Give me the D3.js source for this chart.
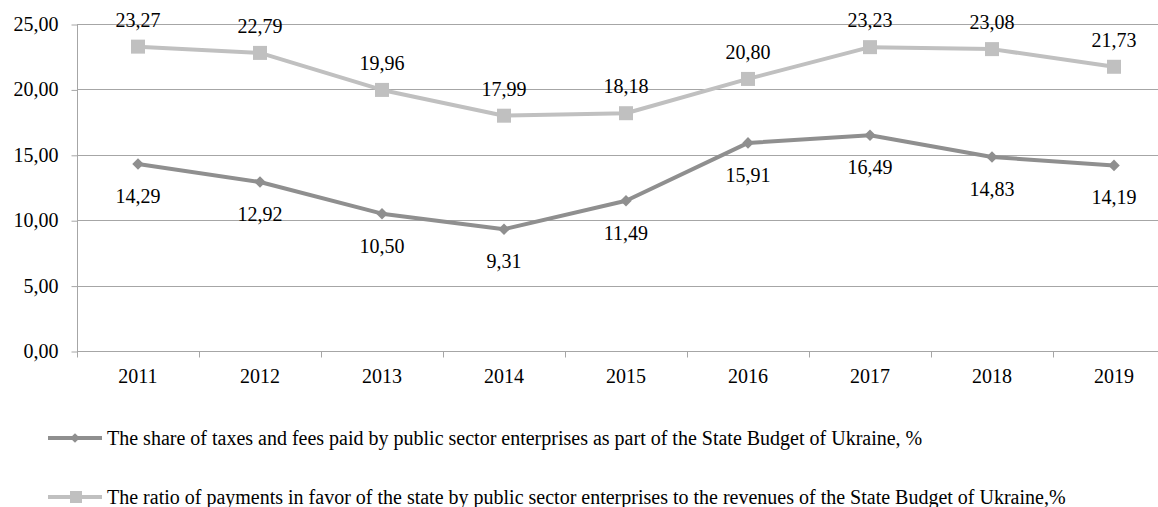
<!DOCTYPE html>
<html>
<head>
<meta charset="utf-8">
<script src="https://cdn.jsdelivr.net/npm/d3@7"></script>
<style>
  html, body { margin: 0; padding: 0; background: #fff; }
  svg { display: block; }
  svg text { font-family: "Liberation Serif", "Times New Roman", serif; }
</style>
</head>
<body>
<svg id="chart" width="1158" height="507"></svg>
<script>
// Years on the category axis
const years = ["2011", "2012", "2013", "2014", "2015", "2016", "2017", "2018", "2019"];
// Share of taxes and fees paid by public sector enterprises, %
const taxShare = [14.29, 12.92, 10.50, 9.31, 11.49, 15.91, 16.49, 14.83, 14.19];
// Ratio of payments in favor of the state to State Budget revenues, %
const paymentRatio = [23.27, 22.79, 19.96, 17.99, 18.18, 20.80, 23.23, 23.08, 21.73];
// Value axis ticks
const yTicks = [0, 5, 10, 15, 20, 25];
const seriesNames = [
  "The share of taxes and fees paid by public sector enterprises as part of the State Budget of Ukraine, %",
  "The ratio of payments in favor of the state by public sector enterprises to the revenues of the State Budget of Ukraine,%"
];

const fmt = v => v.toFixed(2).replace(".", ",");
const svg = d3.select("#chart");

const plot = { left: 77, top: 24, bottom: 351, band: 122 };
const x = d3.scaleBand().domain(years)
  .range([plot.left, plot.left + plot.band * years.length]).paddingInner(0).paddingOuter(0);
const y = d3.scaleLinear().domain([0, 25]).range([plot.bottom, plot.top]);

const gridColor = "#a6a6a6";
const fontSize = 20;

// Horizontal gridlines
svg.append("g").selectAll("line").data(yTicks.filter(t => t > 0)).join("line")
  .attr("x1", plot.left).attr("x2", 1158)
  .attr("y1", d => Math.round(y(d)) + 0.5).attr("y2", d => Math.round(y(d)) + 0.5)
  .attr("stroke", gridColor).attr("stroke-width", 1);

// Value axis
const yAxis = svg.append("g")
  .attr("transform", `translate(${plot.left + 0.5},0)`)
  .call(d3.axisLeft(y).tickValues(yTicks).tickSize(6).tickPadding(13).tickFormat(fmt));
yAxis.attr("font-family", null).attr("font-size", fontSize);
yAxis.select(".domain").attr("stroke", gridColor).attr("d", `M0,${plot.top}V${plot.bottom}`);
yAxis.selectAll(".tick line").attr("stroke", gridColor).attr("transform", "translate(0,0.5)");
yAxis.selectAll(".tick text").attr("fill", "#000");

// Category axis
const xAxisG = svg.append("g")
  .attr("transform", `translate(0,${Math.round(plot.bottom) + 0.5})`);
xAxisG.append("line").attr("x1", plot.left).attr("x2", 1158).attr("stroke", gridColor);
xAxisG.selectAll("line.sep").data(years).join("line").attr("class", "sep")
  .attr("x1", d => Math.round(x(d)) + 0.5).attr("x2", d => Math.round(x(d)) + 0.5)
  .attr("y1", 0).attr("y2", 6).attr("stroke", gridColor);
xAxisG.selectAll("text").data(years).join("text")
  .attr("x", d => x(d) + x.bandwidth() / 2).attr("y", 31)
  .attr("text-anchor", "middle").attr("font-size", fontSize).attr("fill", "#000").text(d => d);

const cx = d => x(d) + x.bandwidth() / 2;
const line = d3.line().x(d => cx(d.year)).y(d => y(d.v));

const darkColor = "#8f8f8f";
const lightColor = "#c0c0c0";

const s1 = years.map((yr, i) => ({ year: yr, v: taxShare[i] }));
const s2 = years.map((yr, i) => ({ year: yr, v: paymentRatio[i] }));

// Light series: payment ratio with square markers
svg.append("path").datum(s2).attr("d", line)
  .attr("fill", "none").attr("stroke", lightColor).attr("stroke-width", 4).attr("stroke-linejoin", "round");
svg.append("g").selectAll("rect").data(s2).join("rect")
  .attr("x", d => cx(d.year) - 7).attr("y", d => y(d.v) - 7)
  .attr("width", 14).attr("height", 14).attr("fill", lightColor);

// Dark series: tax share with diamond markers
svg.append("path").datum(s1).attr("d", line)
  .attr("fill", "none").attr("stroke", darkColor).attr("stroke-width", 4).attr("stroke-linejoin", "round");
const diamond = d3.symbol().type(d3.symbolDiamond2).size(85);
svg.append("g").selectAll("path").data(s1).join("path")
  .attr("d", diamond)
  .attr("transform", d => `translate(${cx(d.year)},${y(d.v)})`)
  .attr("fill", darkColor);

// Data labels
svg.append("g").selectAll("text").data(s2).join("text")
  .attr("x", d => cx(d.year)).attr("y", d => y(d.v) - 20)
  .attr("text-anchor", "middle").attr("font-size", fontSize).attr("fill", "#000").text(d => fmt(d.v));
svg.append("g").selectAll("text").data(s1).join("text")
  .attr("x", d => cx(d.year)).attr("y", d => y(d.v) + 39)
  .attr("text-anchor", "middle").attr("font-size", fontSize).attr("fill", "#000").text(d => fmt(d.v));

// Legend
const legend = svg.append("g");
const legendRows = [
  { name: seriesNames[0], color: darkColor, marker: "diamond", yPos: 438 },
  { name: seriesNames[1], color: lightColor, marker: "square", yPos: 497 }
];
legendRows.forEach(r => {
  legend.append("line").attr("x1", 48).attr("x2", 102).attr("y1", r.yPos).attr("y2", r.yPos)
    .attr("stroke", r.color).attr("stroke-width", 4);
  if (r.marker === "diamond") {
    legend.append("path").attr("d", d3.symbol().type(d3.symbolDiamond2).size(60))
      .attr("transform", `translate(75,${r.yPos})`).attr("fill", r.color);
  } else {
    legend.append("rect").attr("x", 70).attr("y", r.yPos - 6).attr("width", 12).attr("height", 12).attr("fill", r.color);
  }
  legend.append("text").attr("x", 107).attr("y", r.yPos + 7)
    .attr("font-size", fontSize).attr("fill", "#000").text(r.name);
});
</script>
</body>
</html>
